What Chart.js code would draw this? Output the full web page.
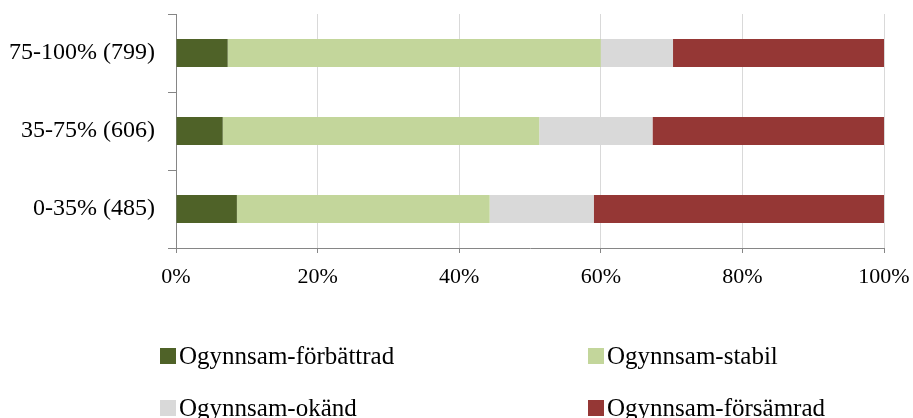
<!DOCTYPE html>
<html>
<head>
<meta charset="utf-8">
<script src="https://cdn.jsdelivr.net/npm/chart.js@4"></script>
<style>
  body { margin: 0; background: #fff; }
  #wrap { position: relative; width: 913px; height: 418px; overflow: hidden; }
  #legend { position: absolute; left: 0; top: 0; width: 913px; height: 418px; pointer-events: none;
            font-family: "Liberation Serif", "Times New Roman", serif; font-size: 25px; color: #000; }
  .item { position: absolute; display: flex; align-items: center; white-space: nowrap; }
  .box { width: 16px; height: 16px; margin-right: 3px; }
</style>
</head>
<body>
<div id="wrap">
  <canvas id="chart" width="913" height="300"></canvas>
  <div id="legend"></div>
</div>
<script>
const categories = ['75-100% (799)', '35-75% (606)', '0-35% (485)'];
const seriesNames = ['Ogynnsam-förbättrad', 'Ogynnsam-stabil', 'Ogynnsam-okänd', 'Ogynnsam-försämrad'];
const improved = [7.3, 6.6, 8.6];
const stable = [52.7, 44.7, 35.7];
const unknown = [10.2, 16.0, 14.7];
const worsened = [29.8, 32.7, 41.0];
const xTicks = [0, 20, 40, 60, 80, 100];
const colors = ['#4f6228', '#c3d69b', '#d9d9d9', '#953735'];

const serif = "'Liberation Serif', 'Times New Roman', serif";

const chart = new Chart(document.getElementById('chart'), {
  type: 'bar',
  data: {
    labels: categories,
    datasets: [improved, stable, unknown, worsened].map((d, i) => ({
      label: seriesNames[i],
      data: d,
      backgroundColor: colors[i],
      borderWidth: 0,
      barPercentage: 0.36,
      categoryPercentage: 1.0
    }))
  },
  options: {
    indexAxis: 'y',
    responsive: false,
    animation: false,
    layout: { padding: { top: 14, right: 29, bottom: 0, left: 0 } },
    plugins: { legend: { display: false }, tooltip: { enabled: false } },
    scales: {
      x: {
        stacked: true,
        min: 0,
        max: 100,
        afterBuildTicks: axis => { axis.ticks = xTicks.map(v => ({ value: v })); },
        afterFit: axis => {
          axis.height = 52;
          axis.paddingLeft = 0;
          axis.paddingRight = 0;
        },
        ticks: {
          callback: v => v + '%',
          color: '#000',
          padding: 11,
          maxRotation: 0,
          font: { family: serif, size: 22 }
        },
        grid: { color: '#d9d9d9', tickColor: '#868686', tickLength: 5 },
        border: { color: '#868686' }
      },
      y: {
        stacked: true,
        afterFit: axis => {
          axis.width = 176;
          axis.paddingTop = 0;
          axis.paddingBottom = 0;
        },
        ticks: {
          color: '#000',
          padding: 13,
          font: { family: serif, size: 24 }
        },
        grid: { drawOnChartArea: false, tickColor: '#868686', tickLength: 8 },
        border: { color: '#868686' }
      }
    }
  }
});

// two-column legend built from the chart's datasets
const legendPos = [
  { left: 160, top: 342 }, { left: 588, top: 342 },
  { left: 160, top: 394 }, { left: 588, top: 394 }
];
const legend = document.getElementById('legend');
chart.data.datasets.forEach((ds, i) => {
  const item = document.createElement('div');
  item.className = 'item';
  item.style.left = legendPos[i].left + 'px';
  item.style.top = legendPos[i].top + 'px';
  item.style.height = '28px';
  const box = document.createElement('span');
  box.className = 'box';
  box.style.background = ds.backgroundColor;
  const txt = document.createElement('span');
  txt.textContent = ds.label;
  item.appendChild(box);
  item.appendChild(txt);
  legend.appendChild(item);
});
</script>
</body>
</html>
